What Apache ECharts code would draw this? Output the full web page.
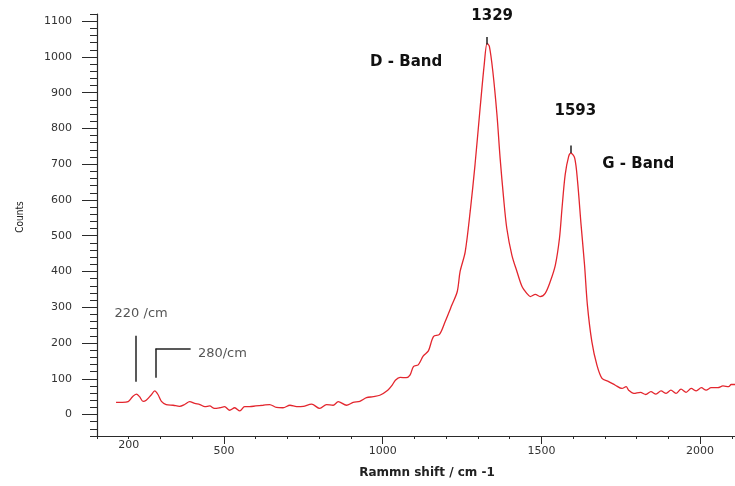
<!DOCTYPE html>
<html>
<head>
<meta charset="utf-8">
<script src="https://cdn.jsdelivr.net/npm/echarts@6/dist/echarts.min.js"></script>
<style>
    html, body { margin: 0; padding: 0; background: #fff; }
    #chart { width: 735px; height: 486px; }
</style>
</head>
<body>
<div id="chart"></div>
<script>
// Raman spectrum
const wavenumber = [
    160, 180, 198, 212, 224, 234, 245, 255, 270, 282, 292, 303, 318, 340, 360, 376, 392, 408, 424, 440,
    455, 470, 487, 502, 518, 534, 550, 565, 581, 600, 623, 644, 665, 686, 708, 729, 750, 776, 802, 823,
    844, 860, 886, 907, 928, 949, 970, 991, 1016, 1030, 1040, 1055, 1074, 1086, 1097, 1112, 1128, 1144, 1160, 1179,
    1197, 1218, 1235, 1244, 1260, 1276, 1291, 1307, 1320, 1329, 1336, 1347, 1360, 1370, 1381, 1391, 1407, 1423, 1439, 1454,
    1465, 1481, 1496, 1512, 1528, 1544, 1557, 1565, 1575, 1586, 1593, 1605, 1614, 1625, 1636, 1645, 1659, 1675, 1691, 1712,
    1733, 1754, 1767, 1775, 1791, 1812, 1829, 1845, 1861, 1877, 1893, 1908, 1924, 1940, 1956, 1972, 1988, 2004, 2019, 2035,
    2056, 2072, 2090, 2098, 2110
];
const counts = [
    34, 34, 36, 50, 57, 50, 37, 40, 54, 66, 56, 37, 28, 26, 23, 28, 36, 31, 28, 22,
    24, 17, 19, 22, 12, 19, 10, 22, 22, 24, 26, 28, 20, 19, 26, 22, 23, 29, 17, 28,
    26, 36, 26, 34, 37, 47, 50, 54, 68, 82, 96, 104, 103, 110, 134, 139, 164, 178, 218, 224,
    260, 306, 344, 400, 455, 570, 699, 857, 979, 1038, 1030, 960, 839, 717, 605, 521, 446, 400, 358, 339,
    330, 336, 330, 339, 372, 418, 493, 577, 671, 722, 731, 717, 652, 531, 418, 306, 204, 138, 101, 92,
    82, 73, 78, 68, 59, 62, 56, 64, 57, 66, 59, 68, 59, 71, 62, 73, 66, 75, 68, 75,
    75, 80, 78, 84, 84
];

// tick labels
const yLabels = [0, 100, 200, 300, 400, 500, 600, 700, 800, 900, 1000, 1100];
const xLabels = [500, 1000, 1500, 2000];
const xFirstLabel = [200];

const X_MIN = 100, X_MAX = 2110;
const Y_MIN = -60, Y_MAX = 1120;

const chart = echarts.init(document.getElementById('chart'));

const axisColor = '#2a2a2a';
const plain = v => String(v);
const labelFont = { fontFamily: 'DejaVu Sans', fontSize: 11, color: '#333', formatter: plain };
const boldText = { fontFamily: 'DejaVu Sans', fontWeight: 'bold', fontSize: 15, color: '#111' };
const noteText = { fontFamily: 'DejaVu Sans', fontSize: 13, color: '#555' };

const textMark = (coord, text, style) => ({
    coord: coord,
    name: text,
    symbolSize: 0,
    label: Object.assign({ show: true, position: 'inside', formatter: '{b}' }, style)
});
const segment = (a, b) => [{ coord: a }, { coord: b }];

const options = {
    animation: false,
    grid: { left: 97, right: 0, top: 14, bottom: 50, containLabel: false },
    xAxis: [
        {
            type: 'value', min: X_MIN, max: X_MAX, interval: 100, position: 'bottom',
            axisLine: { onZero: false, lineStyle: { color: axisColor, width: 1.2 } },
            axisTick: { length: 3, lineStyle: { color: axisColor } },
            axisLabel: Object.assign({ customValues: xFirstLabel, margin: 4 }, labelFont),
            splitLine: { show: false },
            name: 'Rammn shift / cm -1',
            nameLocation: 'middle',
            nameGap: 31,
            nameTextStyle: { fontFamily: 'DejaVu Sans', fontWeight: 'bold', fontSize: 12, color: '#222', padding: [0, 0, 0, 22] }
        },
        {
            type: 'value', min: X_MIN, max: X_MAX, position: 'bottom',
            axisLine: { show: false, onZero: false },
            axisTick: { customValues: xLabels, length: 8, lineStyle: { color: axisColor } },
            axisLabel: Object.assign({ customValues: xLabels, margin: 10 }, labelFont),
            splitLine: { show: false }
        }
    ],
    yAxis: [
        {
            type: 'value', min: Y_MIN, max: Y_MAX, interval: 20, position: 'left',
            axisLine: { show: true, onZero: false, lineStyle: { color: axisColor, width: 1.2 } },
            axisTick: { show: true, length: 7, lineStyle: { color: axisColor } },
            axisLabel: { show: false },
            splitLine: { show: false },
            name: 'Counts',
            nameLocation: 'middle',
            nameGap: 72,
            nameTextStyle: { fontFamily: 'DejaVu Sans Condensed', fontSize: 10, color: '#222', padding: [0, 0, 0, 16] }
        },
        {
            type: 'value', min: Y_MIN, max: Y_MAX, position: 'left',
            axisLine: { show: false, onZero: false },
            axisTick: { show: true, customValues: yLabels, length: 15, lineStyle: { color: axisColor } },
            axisLabel: Object.assign({ customValues: yLabels, margin: 25 }, labelFont),
            splitLine: { show: false }
        }
    ],
    series: [{
        type: 'line',
        xAxisIndex: 0,
        yAxisIndex: 0,
        data: wavenumber.map((w, i) => [w, counts[i]]),
        showSymbol: false,
        smooth: 0.3,
        lineStyle: { color: '#e3262e', width: 1.3 },
        markLine: {
            silent: true,
            symbol: 'none',
            label: { show: false },
            lineStyle: { color: '#222', width: 1.5, type: 'solid' },
            data: [
                segment([222, 92], [222, 220]),
                segment([284, 103], [284, 184]),
                segment([284, 184], [395, 184]),
                segment([1329, 1035], [1329, 1056]),
                segment([1593, 731], [1593, 752])
            ]
        },
        markPoint: {
            silent: true,
            data: [
                textMark([1345, 1114], '1329', boldText),
                textMark([1607, 848], '1593', boldText),
                textMark([1074, 985], 'D - Band', boldText),
                textMark([1805, 699], 'G - Band', boldText),
                textMark([239, 282], '220 /cm', noteText),
                textMark([495, 170], '280/cm', noteText)
            ]
        }
    }]
};

chart.setOption(options);
</script>
</body>
</html>
